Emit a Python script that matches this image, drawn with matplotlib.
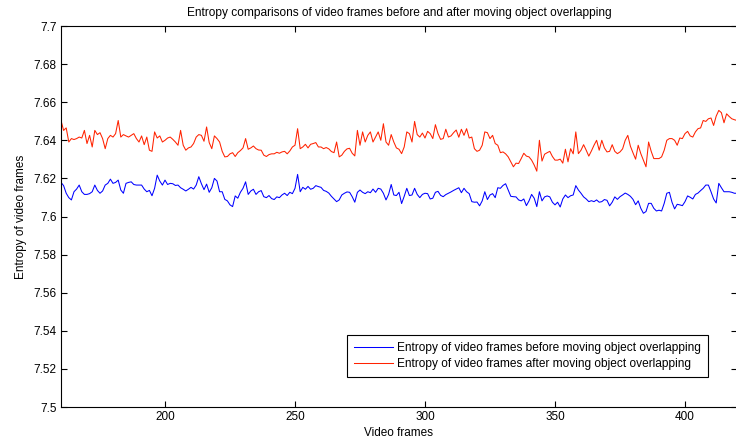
import matplotlib
matplotlib.use("Agg")
import matplotlib.pyplot as plt
import numpy as np

plt.rcParams['font.family'] = ['Liberation Sans', 'DejaVu Sans']

frame_start = 160
frame_end = 420

entropy_after = [
    7.6504, 7.6452, 7.6465, 7.6391, 7.6409, 7.6404, 7.6409, 7.6417, 7.6412, 7.6452,  # 160-169
    7.6383, 7.6426, 7.6365, 7.6452, 7.6430, 7.6440, 7.6409, 7.6356, 7.6409, 7.6426,  # 170-179
    7.6417, 7.6435, 7.6504, 7.6417, 7.6430, 7.6423, 7.6417, 7.6426, 7.6435, 7.6409,  # 180-189
    7.6391, 7.6423, 7.6377, 7.6417, 7.6348, 7.6342, 7.6444, 7.6412, 7.6423, 7.6391,  # 190-199
    7.6400, 7.6412, 7.6417, 7.6405, 7.6391, 7.6374, 7.6452, 7.6374, 7.6348, 7.6360,  # 200-209
    7.6365, 7.6383, 7.6417, 7.6430, 7.6426, 7.6395, 7.6470, 7.6388, 7.6356, 7.6423,  # 210-219
    7.6409, 7.6391, 7.6342, 7.6313, 7.6315, 7.6329, 7.6335, 7.6315, 7.6335, 7.6346,  # 220-229
    7.6360, 7.6409, 7.6353, 7.6360, 7.6370, 7.6356, 7.6349, 7.6348, 7.6322, 7.6315,  # 230-239
    7.6325, 7.6329, 7.6329, 7.6337, 7.6332, 7.6339, 7.6342, 7.6329, 7.6344, 7.6365,  # 240-249
    7.6374, 7.6461, 7.6356, 7.6365, 7.6379, 7.6360, 7.6379, 7.6383, 7.6388, 7.6365,  # 250-259
    7.6365, 7.6356, 7.6362, 7.6355, 7.6341, 7.6335, 7.6391, 7.6313, 7.6322, 7.6342,  # 260-269
    7.6355, 7.6358, 7.6332, 7.6318, 7.6452, 7.6374, 7.6444, 7.6391, 7.6426, 7.6444,  # 270-279
    7.6391, 7.6417, 7.6444, 7.6400, 7.6487, 7.6391, 7.6374, 7.6430, 7.6391, 7.6360,  # 280-289
    7.6353, 7.6330, 7.6365, 7.6444, 7.6435, 7.6391, 7.6499, 7.6430, 7.6417, 7.6438,  # 290-299
    7.6412, 7.6447, 7.6435, 7.6409, 7.6482, 7.6435, 7.6405, 7.6409, 7.6458, 7.6417,  # 300-309
    7.6423, 7.6440, 7.6454, 7.6416, 7.6458, 7.6426, 7.6461, 7.6412, 7.6417, 7.6356,  # 310-319
    7.6342, 7.6348, 7.6374, 7.6444, 7.6440, 7.6409, 7.6426, 7.6383, 7.6374, 7.6335,  # 320-329
    7.6339, 7.6329, 7.6313, 7.6287, 7.6261, 7.6280, 7.6278, 7.6304, 7.6332, 7.6317,  # 330-339
    7.6313, 7.6296, 7.6270, 7.6238, 7.6400, 7.6291, 7.6327, 7.6335, 7.6342, 7.6315,  # 340-349
    7.6296, 7.6296, 7.6301, 7.6280, 7.6353, 7.6287, 7.6356, 7.6329, 7.6444, 7.6330,  # 350-359
    7.6348, 7.6377, 7.6348, 7.6317, 7.6344, 7.6374, 7.6400, 7.6348, 7.6400, 7.6360,  # 360-369
    7.6339, 7.6342, 7.6377, 7.6342, 7.6330, 7.6339, 7.6355, 7.6400, 7.6426, 7.6369,  # 370-379
    7.6334, 7.6301, 7.6374, 7.6330, 7.6296, 7.6261, 7.6391, 7.6342, 7.6304, 7.6304,  # 380-389
    7.6304, 7.6313, 7.6348, 7.6400, 7.6409, 7.6409, 7.6400, 7.6374, 7.6412, 7.6409,  # 390-399
    7.6435, 7.6447, 7.6423, 7.6417, 7.6444, 7.6461, 7.6465, 7.6504, 7.6499, 7.6513,  # 400-409
    7.6517, 7.6478, 7.6527, 7.6557, 7.6545, 7.6492, 7.6539, 7.6525, 7.6513, 7.6508,  # 410-419
    7.6504,                                                                          # 420
]

entropy_before = [
    7.6179, 7.6162, 7.6122, 7.6099, 7.6087, 7.6130, 7.6144, 7.6165, 7.6130, 7.6116,  # 160-169
    7.6116, 7.6120, 7.6130, 7.6165, 7.6137, 7.6122, 7.6134, 7.6165, 7.6174, 7.6196,  # 170-179
    7.6174, 7.6179, 7.6191, 7.6139, 7.6122, 7.6174, 7.6179, 7.6182, 7.6168, 7.6165,  # 180-189
    7.6165, 7.6165, 7.6144, 7.6130, 7.6137, 7.6109, 7.6148, 7.6217, 7.6186, 7.6165,  # 190-199
    7.6191, 7.6168, 7.6174, 7.6172, 7.6163, 7.6165, 7.6151, 7.6143, 7.6134, 7.6143,  # 200-209
    7.6153, 7.6144, 7.6165, 7.6209, 7.6172, 7.6141, 7.6170, 7.6127, 7.6151, 7.6200,  # 210-219
    7.6186, 7.6130, 7.6130, 7.6090, 7.6082, 7.6061, 7.6052, 7.6108, 7.6096, 7.6127,  # 220-229
    7.6148, 7.6182, 7.6116, 7.6134, 7.6143, 7.6116, 7.6130, 7.6136, 7.6104, 7.6099,  # 230-239
    7.6110, 7.6094, 7.6089, 7.6103, 7.6099, 7.6113, 7.6122, 7.6110, 7.6127, 7.6120,  # 240-249
    7.6148, 7.6221, 7.6130, 7.6153, 7.6143, 7.6158, 7.6143, 7.6148, 7.6162, 7.6157,  # 250-259
    7.6153, 7.6137, 7.6132, 7.6123, 7.6106, 7.6092, 7.6078, 7.6087, 7.6113, 7.6122,  # 260-269
    7.6129, 7.6127, 7.6104, 7.6075, 7.6127, 7.6139, 7.6127, 7.6120, 7.6130, 7.6125,  # 270-279
    7.6144, 7.6127, 7.6148, 7.6144, 7.6122, 7.6087, 7.6116, 7.6168, 7.6113, 7.6110,  # 280-289
    7.6127, 7.6068, 7.6106, 7.6148, 7.6110, 7.6113, 7.6148, 7.6116, 7.6099, 7.6116,  # 290-299
    7.6122, 7.6120, 7.6092, 7.6096, 7.6127, 7.6132, 7.6111, 7.6104, 7.6115, 7.6122,  # 300-309
    7.6129, 7.6137, 7.6144, 7.6151, 7.6125, 7.6148, 7.6130, 7.6120, 7.6078, 7.6075,  # 310-319
    7.6076, 7.6056, 7.6082, 7.6130, 7.6089, 7.6113, 7.6120, 7.6099, 7.6151, 7.6148,  # 320-329
    7.6163, 7.6172, 7.6139, 7.6106, 7.6104, 7.6103, 7.6087, 7.6082, 7.6092, 7.6057,  # 330-339
    7.6082, 7.6116, 7.6096, 7.6052, 7.6130, 7.6082, 7.6103, 7.6108, 7.6103, 7.6075,  # 340-349
    7.6061, 7.6075, 7.6050, 7.6092, 7.6113, 7.6099, 7.6109, 7.6113, 7.6162, 7.6139,  # 350-359
    7.6122, 7.6103, 7.6092, 7.6078, 7.6083, 7.6078, 7.6087, 7.6075, 7.6078, 7.6089,  # 360-369
    7.6085, 7.6056, 7.6075, 7.6103, 7.6090, 7.6104, 7.6113, 7.6123, 7.6116, 7.6106,  # 370-379
    7.6090, 7.6062, 7.6082, 7.6043, 7.6017, 7.6026, 7.6069, 7.6069, 7.6043, 7.6029,  # 380-389
    7.6033, 7.6029, 7.6069, 7.6122, 7.6127, 7.6075, 7.6040, 7.6064, 7.6061, 7.6057,  # 390-399
    7.6078, 7.6108, 7.6101, 7.6092, 7.6116, 7.6123, 7.6136, 7.6148, 7.6165, 7.6165,  # 400-409
    7.6130, 7.6092, 7.6071, 7.6174, 7.6151, 7.6130, 7.6130, 7.6130, 7.6127, 7.6122,  # 410-419
    7.6122,                                                                          # 420
]

frames = np.arange(frame_start, frame_end + 1)

x_ticks = [200, 250, 300, 350, 400]
y_ticks = [7.5, 7.52, 7.54, 7.56, 7.58, 7.6, 7.62, 7.64, 7.66, 7.68, 7.7]
y_tick_labels = ['7.5', '7.52', '7.54', '7.56', '7.58', '7.6', '7.62', '7.64', '7.66', '7.68', '7.7']

title = 'Entropy comparisons of video frames before and after moving object overlapping'
xlabel = 'Video frames'
ylabel = 'Entropy of video frames'
label_before = 'Entropy of video frames before moving object overlapping'
label_after = 'Entropy of video frames after moving object overlapping'

fs = 8.6

fig = plt.figure(figsize=(7.36, 4.48), dpi=100)
fig.patch.set_facecolor('white')
ax = fig.add_axes([61 / 736, 41 / 448, 676 / 736, 381 / 448])

ax.plot(frames, entropy_before, color='#0000ff', linewidth=0.75, label=label_before)
ax.plot(frames, entropy_after, color='#ff2200', linewidth=0.75, label=label_after)

ax.set_xlim(frame_start, frame_end)
ax.set_ylim(7.5, 7.7)
ax.set_xticks(x_ticks)
ax.set_yticks(y_ticks)
ax.set_yticklabels(y_tick_labels)
ax.tick_params(direction='in', length=4, width=0.8, labelsize=8.5, top=True, right=True,
               colors='black', pad=3)
for s in ax.spines.values():
    s.set_linewidth(0.8)
    s.set_color('black')

ax.set_title(title, fontsize=fs, pad=7)
ax.set_xlabel(xlabel, fontsize=8.5, labelpad=3)
ax.set_ylabel(ylabel, fontsize=8.5, labelpad=5)

leg = ax.legend(loc='lower right', bbox_to_anchor=(0.957, 0.079), borderaxespad=0,
                fontsize=fs, fancybox=False, framealpha=1, edgecolor='black',
                handlelength=3.2, borderpad=0.6, labelspacing=0.3, handletextpad=0.35)
leg.get_frame().set_linewidth(0.8)

fig.savefig('out.png', dpi=100)
